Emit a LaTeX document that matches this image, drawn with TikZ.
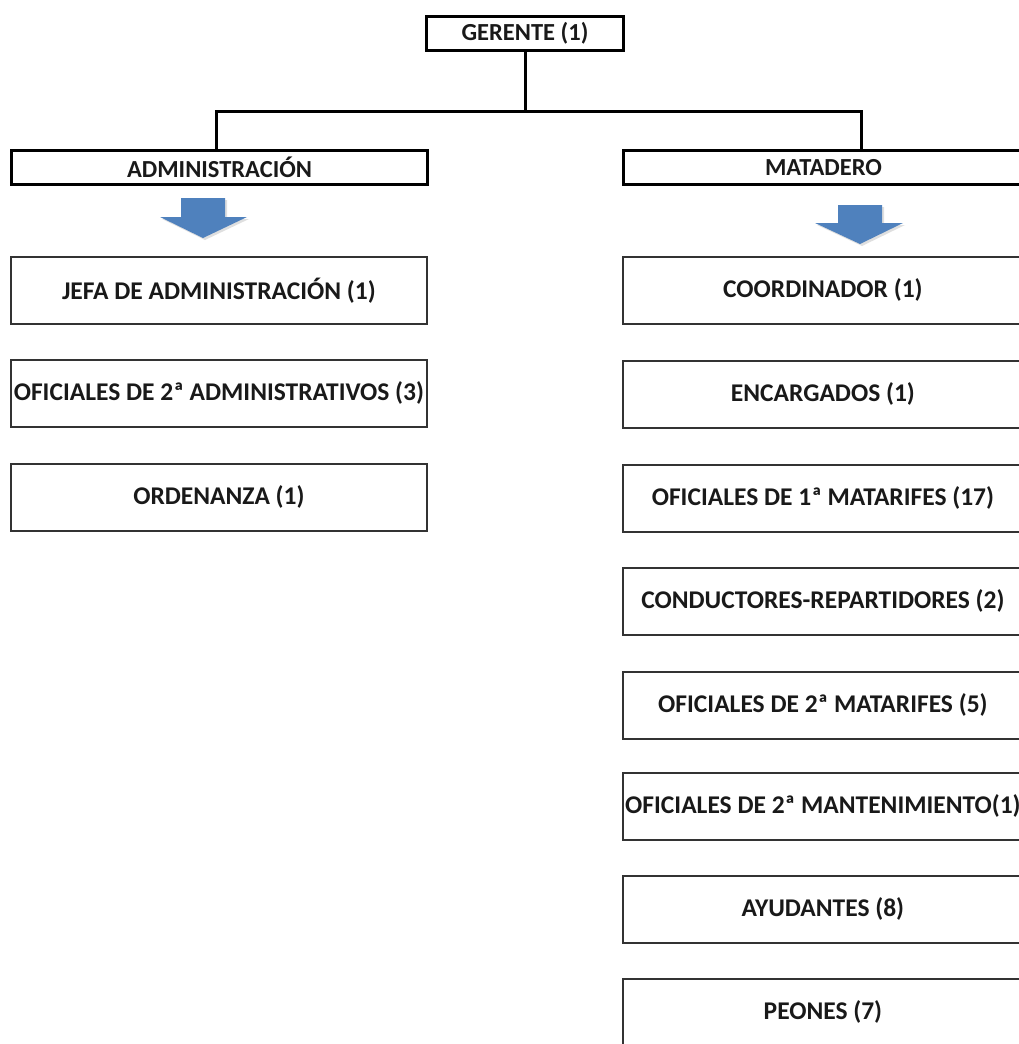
\documentclass[tikz,border=0pt]{standalone}
\usepackage{fontspec}
\setmainfont{Carlito}
\begin{document}
\begin{tikzpicture}[x=1pt,y=-1pt,
  txt/.style={font=\fontsize{25.5}{30}\selectfont\bfseries, text=black!90, inner sep=0pt},
  headbox/.style={txt, font=\fontsize{24.5}{29}\selectfont\bfseries, draw=black, line width=3pt, minimum height=34pt, anchor=north west},
  unitbox/.style={txt, draw=black!80, line width=1.8pt, minimum height=67pt, anchor=north west},
  leftbox/.style={unitbox, minimum width=416pt},
  rightbox/.style={unitbox, minimum width=400pt},
  conn/.style={line width=3pt, draw=black, line join=miter},
  blockarrow/.style={fill=arrowblue, draw=none}
]
\definecolor{arrowblue}{HTML}{4F81BD}
\useasboundingbox (0,0) rectangle (1019,1044);
\clip (0,0) rectangle (1019,1044);

\node[headbox, minimum width=197pt] (ger) at (425,15) {GERENTE (1)};
\node[headbox, minimum width=416pt] (adm) at (10,149) {ADMINISTRACIÓN};
\node[headbox, minimum width=400pt] (mat) at (622,149) {MATADERO};

\coordinate (j) at ([yshift=-59]ger.south);
\draw[conn] (ger.south) -- (j);
\draw[conn] ([xshift=-3]adm.north) -- ([xshift=-3]adm.north |- j) -- ([xshift=38]mat.north |- j) -- ([xshift=38]mat.north);

% block arrows
\fill[black!25, opacity=0.5] (183,200) -- (227,200) -- (227,219) -- (249,219) -- (205,240) -- (162,219) -- (183,219) -- cycle;
\fill[arrowblue] (181,198) -- (225,198) -- (225,217) -- (247,217) -- (203,238) -- (160,217) -- (181,217) -- cycle;
\fill[black!25, opacity=0.5] (840,207) -- (884,207) -- (884,225) -- (905,225) -- (862,246) -- (817,225) -- (840,225) -- cycle;
\fill[arrowblue] (838,205) -- (882,205) -- (882,223) -- (903,223) -- (860,244) -- (815,223) -- (838,223) -- cycle;

\node[leftbox] (jefa) at (10,256) {JEFA DE ADMINISTRACIÓN (1)};
\node[leftbox] (ofad) at (10,359) {OFICIALES DE 2ª ADMINISTRATIVOS (3)};
\node[leftbox] (orde) at (10,463) {ORDENANZA (1)};

\node[rightbox] (coor) at (622,256) {COORDINADOR (1)};
\node[rightbox] (enca) at (622,360) {ENCARGADOS (1)};
\node[rightbox] (of1m) at (622,464) {OFICIALES DE 1ª MATARIFES (17)};
\node[rightbox] (cond) at (622,567) {CONDUCTORES-REPARTIDORES (2)};
\node[rightbox] (of2m) at (622,671) {OFICIALES DE 2ª MATARIFES (5)};
\node[rightbox] (mant) at (622,772) {OFICIALES DE 2ª MANTENIMIENTO(1)};
\node[rightbox] (ayud) at (622,875) {AYUDANTES (8)};
\node[rightbox] (peon) at (622,978) {PEONES (7)};
\end{tikzpicture}
\end{document}
